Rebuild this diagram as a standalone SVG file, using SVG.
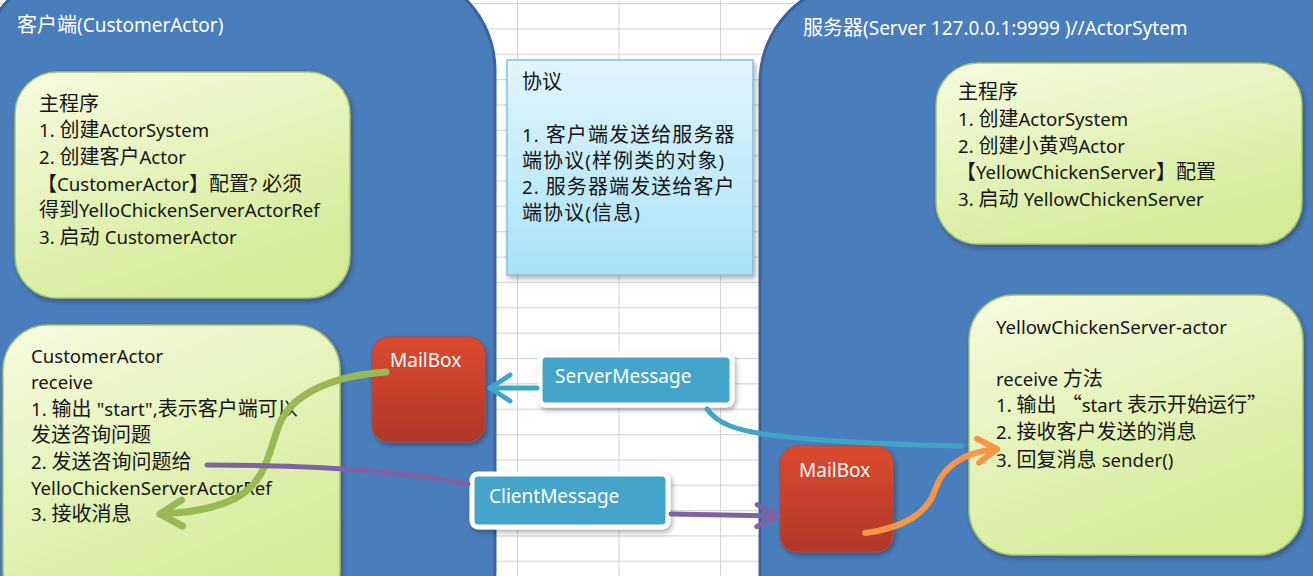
<svg xmlns="http://www.w3.org/2000/svg" width="1313" height="576" viewBox="0 0 1313 576">
<style>
  text { font-family: "Noto Sans", "Noto Sans CJK SC", sans-serif; font-size: 20px; }
  .e { font-size: 18.6px; }
  .t { font-size: 19px; }
  .q { font-family: "Noto Sans CJK SC", sans-serif; }
  .dark { fill: #151515; }
  .white { fill: #ffffff; }
  .sp { letter-spacing: 1.1px; }
  .panel { fill: #4a7dbb; stroke: #3a649a; stroke-width: 3; }
  .green { fill: url(#greenGrad); stroke: #a7c26a; stroke-width: 1.5; filter: url(#shadow); }
  .proto { fill: url(#protoGrad); stroke: #7fc2da; stroke-width: 1.5; filter: url(#shadow); }
  .mail { fill: url(#redGrad); stroke: #b8493a; stroke-width: 1; filter: url(#shadow); }
  .msg { fill: #44a4c9; stroke: #ffffff; stroke-width: 5; filter: url(#shadow); }
  .conn { fill: none; stroke-linecap: round; stroke-linejoin: round; }
</style>
<defs>
  <pattern id="grid" patternUnits="userSpaceOnUse" x="9.5" y="3" width="101.5" height="25.35">
    <rect width="101.5" height="25.35" fill="#ffffff"/>
    <line x1="0" y1="0.5" x2="101.5" y2="0.5" stroke="#d6d6d6" stroke-width="1.2"/>
    <line x1="0.5" y1="0" x2="0.5" y2="25.35" stroke="#d6d6d6" stroke-width="1.2"/>
  </pattern>
  <linearGradient id="greenGrad" x1="0" y1="0" x2="0.5" y2="1">
    <stop offset="0" stop-color="#f7fbe0"/>
    <stop offset="1" stop-color="#d4eb98"/>
  </linearGradient>
  <linearGradient id="protoGrad" x1="0" y1="0" x2="0" y2="1">
    <stop offset="0" stop-color="#e2f5fc"/>
    <stop offset="1" stop-color="#a9e2f6"/>
  </linearGradient>
  <linearGradient id="redGrad" x1="0" y1="0" x2="0" y2="1">
    <stop offset="0" stop-color="#dc4a2e"/>
    <stop offset="1" stop-color="#b0372b"/>
  </linearGradient>
  <filter id="shadow" x="-10%" y="-10%" width="125%" height="130%">
    <feDropShadow dx="2" dy="3" stdDeviation="2.5" flood-color="#000000" flood-opacity="0.3"/>
  </filter>
  <marker id="arrGreen" markerUnits="userSpaceOnUse" viewBox="-30 -20 36 40" refX="0" refY="0" markerWidth="36" markerHeight="40" orient="auto">
    <path d="M-22,-13 L0,0 L-22,13" fill="none" stroke="#98b954" stroke-width="7" stroke-linecap="round" stroke-linejoin="round"/>
  </marker>
  <marker id="arrBlue" markerUnits="userSpaceOnUse" viewBox="-30 -20 36 40" refX="0" refY="0" markerWidth="36" markerHeight="40" orient="auto">
    <path d="M-20,-13 L0,0 L-20,13" fill="none" stroke="#3ea5c7" stroke-width="5" stroke-linecap="round" stroke-linejoin="round"/>
  </marker>
  <marker id="arrPurple" markerUnits="userSpaceOnUse" viewBox="-30 -20 36 40" refX="0" refY="0" markerWidth="36" markerHeight="40" orient="auto">
    <path d="M-21,-11 L0,0 L-21,11" fill="none" stroke="#7f62a3" stroke-width="5" stroke-linecap="round" stroke-linejoin="round"/>
  </marker>
  <marker id="arrOrange" markerUnits="userSpaceOnUse" viewBox="-30 -20 36 40" refX="0" refY="0" markerWidth="36" markerHeight="40" orient="auto">
    <path d="M-19,-12 L0,0 L-19,12" fill="none" stroke="#f79646" stroke-width="6" stroke-linecap="round" stroke-linejoin="round"/>
  </marker>
</defs>

<rect x="0" y="0" width="1313" height="576" fill="url(#grid)"/>

<g id="client-panel">
  <rect class="panel" x="-20" y="-30" width="515" height="700" rx="100" ry="100"/>
  <text class="white" x="17" y="32">客户端<tspan class="t">(CustomerActor)</tspan></text>
</g>

<g id="server-panel">
  <rect class="panel" x="760" y="-18" width="620" height="700" rx="100" ry="100"/>
  <text class="white" x="803" y="35">服务器<tspan class="t">(Server 127.0.0.1:9999 )//ActorSytem</tspan></text>
</g>

<g id="client-main">
  <rect class="green" x="15" y="72" width="335" height="226" rx="42" ry="42"/>
  <text class="dark" x="39" y="111">主程序</text>
  <text class="dark" x="39" y="137"><tspan class="e">1. </tspan>创建<tspan class="e">ActorSystem</tspan></text>
  <text class="dark" x="39" y="164"><tspan class="e">2. </tspan>创建客户<tspan class="e">Actor</tspan></text>
  <text class="dark" x="37" y="191">【<tspan class="e">CustomerActor</tspan>】配置<tspan class="e">? </tspan>必须</text>
  <text class="dark" x="39" y="217">得到<tspan class="e">YelloChickenServerActorRef</tspan></text>
  <text class="dark" x="39" y="244"><tspan class="e">3. </tspan>启动 <tspan class="e">CustomerActor</tspan></text>
</g>

<g id="protocol">
  <rect class="proto" x="507" y="60" width="246" height="215"/>
  <text class="dark" x="522" y="89">协议</text>
  <text class="dark sp" x="522" y="142"><tspan class="e">1. </tspan>客户端发送给服务器</text>
  <text class="dark sp" x="522" y="168">端协议<tspan class="e">(</tspan>样例类的对象<tspan class="e">)</tspan></text>
  <text class="dark sp" x="522" y="194"><tspan class="e">2. </tspan>服务器端发送给客户</text>
  <text class="dark sp" x="522" y="220">端协议<tspan class="e">(</tspan>信息<tspan class="e">)</tspan></text>
</g>

<g id="server-main">
  <rect class="green" x="936" y="63" width="366" height="181" rx="42" ry="42"/>
  <text class="dark" x="958" y="99">主程序</text>
  <text class="dark" x="958" y="126"><tspan class="e">1. </tspan>创建<tspan class="e">ActorSystem</tspan></text>
  <text class="dark" x="958" y="153"><tspan class="e">2. </tspan>创建小黄鸡<tspan class="e">Actor</tspan></text>
  <text class="dark" x="956" y="179">【<tspan class="e">YellowChickenServer</tspan>】配置</text>
  <text class="dark" x="958" y="206"><tspan class="e">3. </tspan>启动 <tspan class="e">YellowChickenServer</tspan></text>
</g>

<g id="customer-actor">
  <rect class="green" x="3" y="325" width="337" height="290" rx="45" ry="45"/>
  <text class="dark e" x="31" y="363">CustomerActor</text>
  <text class="dark e" x="31" y="389">receive</text>
  <text class="dark" x="31" y="416"><tspan class="e">1. </tspan>输出 <tspan class="e">"start",</tspan>表示客户端可以</text>
  <text class="dark" x="31" y="442">发送咨询问题</text>
  <text class="dark" x="31" y="469"><tspan class="e">2. </tspan>发送咨询问题给</text>
  <text class="dark e" x="31" y="495">YelloChickenServerActorRef</text>
  <text class="dark" x="31" y="521"><tspan class="e">3. </tspan>接收消息</text>
</g>

<g id="server-actor">
  <rect class="green" x="969" y="295" width="334" height="260" rx="45" ry="45"/>
  <text class="dark e" x="996" y="334">YellowChickenServer-actor</text>
  <text class="dark" x="996" y="386"><tspan class="e">receive </tspan>方法</text>
  <text class="dark" x="996" y="412"><tspan class="e">1. </tspan>输出 <tspan class="q">“</tspan><tspan class="e">start </tspan>表示开始运行<tspan class="q">”</tspan></text>
  <text class="dark" x="996" y="439"><tspan class="e">2. </tspan>接收客户发送的消息</text>
  <text class="dark" x="996" y="467"><tspan class="e">3. </tspan>回复消息 <tspan class="e">sender()</tspan></text>
</g>

<g id="client-mailbox">
  <rect class="mail" x="372" y="337" width="113" height="105" rx="17" ry="17"/>
  <text class="white t" x="390" y="367">MailBox</text>
</g>

<g id="server-mailbox">
  <rect class="mail" x="780" y="446" width="113" height="106" rx="17" ry="17"/>
  <text class="white t" x="799" y="477">MailBox</text>
</g>

<g id="server-message">
  <rect class="msg" x="540" y="355" width="192" height="50" rx="6" ry="6"/>
  <text class="white t" x="555" y="383">ServerMessage</text>
</g>

<g id="client-message">
  <rect class="msg" x="472" y="474" width="196" height="53" rx="6" ry="6"/>
  <text class="white t" x="489" y="503">ClientMessage</text>
</g>

<g id="connectors">
  <path class="conn" d="M386,372 C330,376 291,395 279,425 C268,455 266,481 236,498 C212,510 186,513 160,514" stroke="#98b954" stroke-width="7" marker-end="url(#arrGreen)"/>
  <path class="conn" d="M537,388 L490,388" stroke="#3ea5c7" stroke-width="5" marker-end="url(#arrBlue)"/>
  <path class="conn" d="M707,409 C718,424 735,430 770,435 C830,442 900,445 962,446" stroke="#3ea5c7" stroke-width="5"/>
  <path class="conn" d="M207,465 C300,465 400,470 468,484" stroke="#7f62a3" stroke-width="5"/>
  <path class="conn" d="M671,514 L778,516" stroke="#7f62a3" stroke-width="5" marker-end="url(#arrPurple)"/>
  <path class="conn" d="M865,533 C905,528 928,512 935,490 C942,468 962,452 997,449" stroke="#f79646" stroke-width="6" marker-end="url(#arrOrange)"/>
</g>
</svg>
